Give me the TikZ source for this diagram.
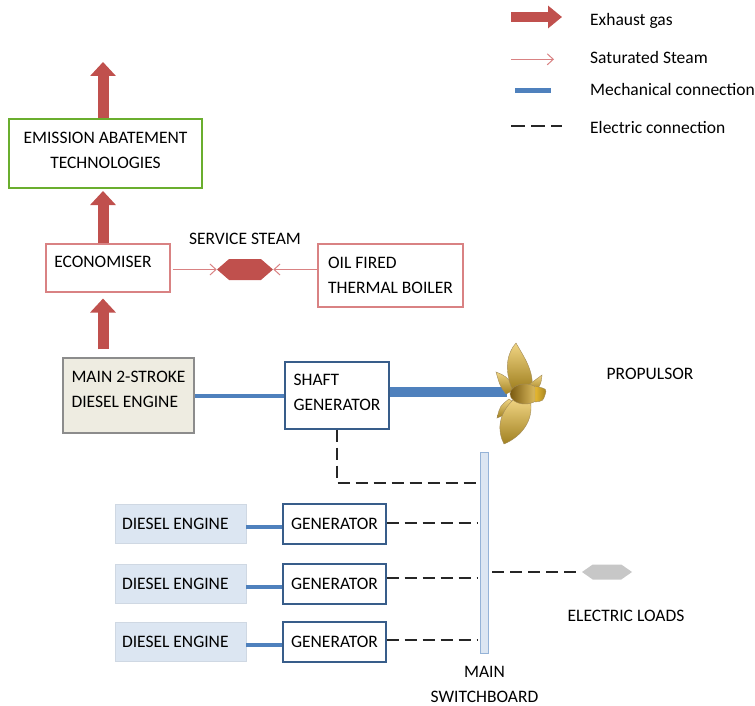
\documentclass[tikz,border=0pt]{standalone}
\usepackage{fontspec}
\setmainfont{Carlito}
\usetikzlibrary{positioning,arrows.meta,calc,shapes.symbols}
\definecolor{gasred}{HTML}{C0504D}
\definecolor{steamred}{HTML}{D98283}
\definecolor{mechblue}{HTML}{4F81BD}
\definecolor{navyline}{HTML}{385D8A}
\definecolor{paleblue}{HTML}{DCE6F2}
\definecolor{engtan}{HTML}{EEECE1}
\definecolor{abategreen}{HTML}{6AAE2E}
\definecolor{propgold}{HTML}{E6B830}
\definecolor{propdark}{HTML}{7A5A10}

\begin{document}
\begin{tikzpicture}[x=1pt, y=-1pt,
  font=\fontsize{17.5}{25}\selectfont,
  box/.style={draw, inner sep=0pt},
  redbox/.style={box, draw=steamred, line width=1.1pt},
  navybox/.style={box, draw=navyline, line width=1.2pt, fill=white},
  engbox/.style={box, draw=black!45, line width=1.1pt, fill=engtan},
  dslbox/.style={box, draw=paleblue!94!black, fill=paleblue, minimum width=131pt, minimum height=39pt},
  gas/.style={line width=11pt, draw=gasred, -{Triangle[length=14pt, width=25pt]}},
  steam/.style={line width=1pt, draw=steamred, -{Straight Barb[length=6pt, width=11pt]}},
  mech/.style={line width=4pt, draw=mechblue},
  shaft/.style={line width=10pt, draw=mechblue},
  elec/.style={line width=1.7pt, draw=black!85, dash pattern=on 12pt off 6pt},
  hexa/.style={signal, signal to=east and west, inner sep=0pt},
  blade/.style={top color=propgold!60!white, bottom color=propgold!70!black, draw=propdark!70, line width=0.4pt},
  txt/.style={inner sep=0pt, align=left},
  lbl/.style={inner sep=0pt, align=center}
]
\useasboundingbox (0,0) rectangle (755,706);

% exhaust gas line
\coordinate (gasx) at (103,0);
\coordinate (gasout) at (103,62);
\node[box, draw=abategreen, line width=2pt, minimum width=193pt, minimum height=69pt] (emis) at (105.5,153.5) {};
\node[lbl] (emistxt) at ([yshift=3pt]emis.center) {EMISSION ABATEMENT\\TECHNOLOGIES};
\node[redbox, minimum width=124pt, minimum height=48pt] (eco) at (108,268) {};
\node[txt] (ecotxt) at ([xshift=-5pt, yshift=6pt]eco.center) {ECONOMISER};
\node[hexa, fill=gasred, minimum width=56pt, minimum height=21pt, signal pointer angle=82] (svc) at (245,269.5) {};
\node[lbl, above=14pt of svc] (svctxt) {SERVICE STEAM};
\node[redbox, minimum width=145pt, minimum height=63pt, align=left] (boiler) at (390.5,275.5) {OIL FIRED\\THERMAL BOILER};

% propulsion line
\node[engbox, minimum width=131pt, minimum height=75pt] (eng) at (128.5,395.5) {};
\node[txt] (engtxt) at ([yshift=6pt]eng.center) {MAIN 2-STROKE\\DIESEL ENGINE};
\node[navybox, minimum width=104pt, minimum height=67pt] (sg) at (337,395.5) {};
\node[txt] (sgtxt) at ([yshift=3pt]sg.center) {SHAFT\\GENERATOR};
\node[lbl] (proptxt) at (650,374) {PROPULSOR};
\coordinate (prop) at (507,392);

% switchboard and auxiliary gensets
\node[box, draw=mechblue!60, fill=paleblue, line width=1pt, minimum width=8pt, minimum height=201pt] (sb) at (484.5,552.5) {};
\node[lbl, below=13pt of sb] (sbtxt) {MAIN\\SWITCHBOARD};
\foreach \i/\y in {1/524,2/584,3/642} {
  \node[dslbox] (dsl\i) at (180.5,\y) {};
  \node[txt, anchor=west] (dsltxt\i) at ([xshift=7pt]dsl\i.west) {DIESEL ENGINE};
  \node[navybox, minimum width=103pt, minimum height=40pt] (gen\i) at (334.5,\y) {GENERATOR};
}
\node[hexa, fill=black!22, minimum width=50pt, minimum height=15pt, signal pointer angle=70] (loads) at (607,572) {};
\node[lbl] (loadstxt) at (626,616) {ELECTRIC LOADS};

% exhaust and steam flows
\draw[gas] (emis.north -| gasx) -- (gasout);
\draw[gas] (eco.north -| gasx) -- ($(emis.south -| gasx)+(0,2)$);
\draw[gas] ($(eng.north -| gasx)+(0,-8)$) -- ($(eco.south -| gasx)+(0,6)$);
\draw[steam] ($(eco.east |- svc)+(2,0)$) -- (svc.west);
\draw[steam] (boiler.west |- svc) -- (svc.east);

% shafts
\draw[mech] (eng.east) -- (sg.west);
\draw[shaft] (sg.east |- prop) -- (prop);
\foreach \i in {1,2,3} \draw[mech] ([yshift=-3pt]dsl\i.east) -- ([yshift=-3pt]gen\i.west);

% electric connections
\coordinate (sgtap) at (478,483);
\draw[elec] (sg.south) |- (sgtap);
\foreach \i/\s in {1/1,2/6,3/2}
  \draw[elec] ($(gen\i.east)+(0,-\s)$) -- ($(gen\i.east -| sb.west)+(-2,-\s)$);
\draw[elec] ($(sb.east |- loads)+(3,0)$) -- (loads.west);

% propeller
\path[blade] (506,394) .. controls (500,386) .. (496,372) .. controls (506,376) .. (516,389) -- cycle;
\path[blade] (509,399) .. controls (500,406) .. (497,418) .. controls (507,414) .. (516,404) -- cycle;
\path[blade] (512,389) .. controls (504,369) and (507,353) .. (516,343) .. controls (524,357) and (534,371) .. (532,388) -- cycle;
\path[blade] (527,386) .. controls (534,380) .. (542,375) .. controls (541,384) .. (536,391) -- cycle;
\path[blade] (514,399) .. controls (498,414) and (497,431) .. (504,444) .. controls (521,437) and (535,420) .. (530,399) -- cycle;
\path[blade, left color=propdark, right color=propgold!70!white] (525,394) ellipse [x radius=15, y radius=10];
\path[blade, left color=propgold, right color=propgold!70!black] (535,386) .. controls (547,389) .. (545,395) .. controls (543,401) .. (535,402) -- cycle;

% legend
\node[txt, anchor=base west] (lgas) at (590,26) {Exhaust gas};
\node[txt, anchor=base west] (lsteam) at (590,63.3) {Saturated Steam};
\node[txt, anchor=base west] (lmech) at (590,95.7) {Mechanical connection};
\node[txt, anchor=base west] (lelec) at (590,133.3) {Electric connection};
\draw[gas, line width=10pt, -{Triangle[length=14pt, width=22pt]}] ($(lgas.base west)+(-79,-9)$) -- ++(51,0);
\draw[steam] ($(lsteam.base west)+(-79,-4)$) -- ++(43,0);
\draw[mech, line width=5pt] ($(lmech.base west)+(-75,-5)$) -- ++(36,0);
\draw[elec, dash pattern=on 14pt off 6pt] ($(lelec.base west)+(-79,-7.6)$) -- ++(51,0);
\end{tikzpicture}
\end{document}
